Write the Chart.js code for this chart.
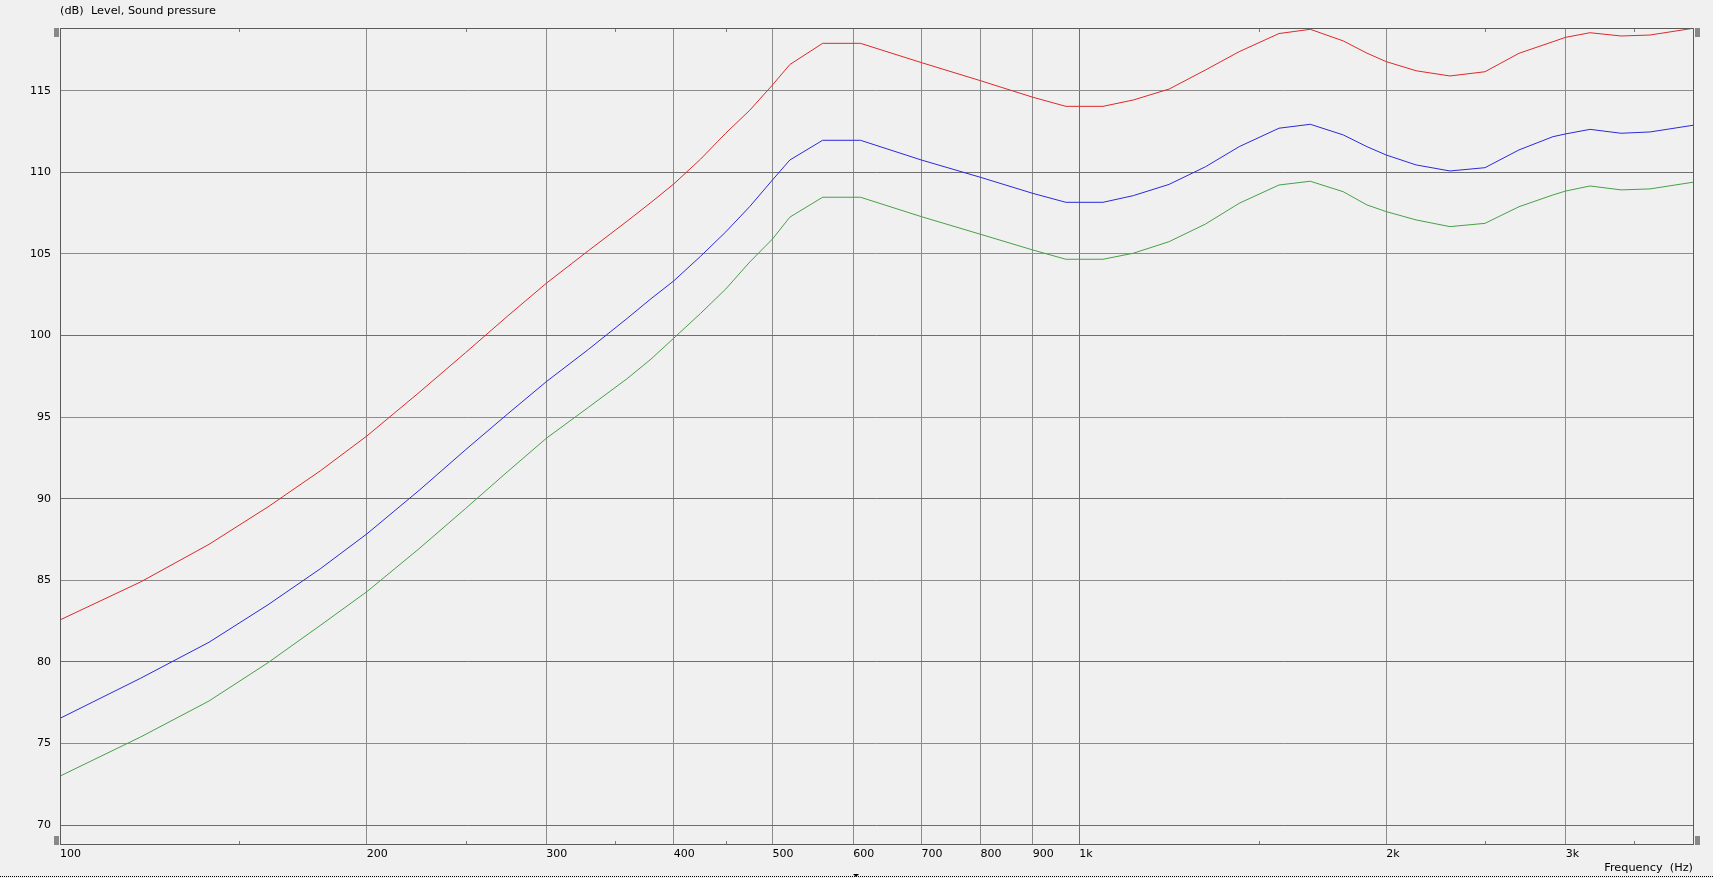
<!DOCTYPE html>
<html>
<head>
<meta charset="utf-8">
<script src="https://cdn.jsdelivr.net/npm/chart.js@4/dist/chart.umd.min.js"></script>
<style>
  html, body { margin: 0; padding: 0; background: #f0f0f0; }
  canvas { display: block; }
</style>
</head>
<body>
<canvas id="c" width="1713" height="878"></canvas>
<script>
// ---- Data ----
const freqs = [100, 120, 140, 160, 180, 200, 225, 250, 275, 300, 330, 360, 380, 400, 425, 450, 475, 500, 520, 560, 610, 700, 800, 900, 970, 1055, 1130, 1225, 1330, 1435, 1570, 1685, 1815, 1915, 2000, 2140, 2310, 2500, 2700, 2915, 3000, 3170, 3400, 3630, 4000];
const redLevel = [82.57, 84.9, 87.2, 89.5, 91.7, 93.84, 96.5, 98.95, 101.2, 103.2, 105.2, 107.0, 108.15, 109.28, 110.8, 112.4, 113.8, 115.35, 116.6, 117.9, 117.9, 116.72, 115.61, 114.6, 114.04, 114.04, 114.43, 115.1, 116.27, 117.39, 118.5, 118.76, 118.05, 117.3, 116.78, 116.22, 115.9, 116.16, 117.29, 118.0, 118.27, 118.55, 118.35, 118.41, 118.82];
const blueLevel = [76.54, 79.0, 81.2, 83.5, 85.7, 87.84, 90.5, 93.0, 95.2, 97.17, 99.15, 101.04, 102.25, 103.34, 104.85, 106.35, 107.9, 109.53, 110.75, 111.96, 111.96, 110.75, 109.69, 108.71, 108.16, 108.16, 108.57, 109.26, 110.34, 111.57, 112.7, 112.94, 112.29, 111.57, 111.06, 110.45, 110.08, 110.28, 111.37, 112.18, 112.35, 112.63, 112.39, 112.47, 112.88];
const greenLevel = [73.0, 75.4, 77.6, 79.95, 82.23, 84.3, 86.93, 89.4, 91.67, 93.7, 95.6, 97.35, 98.55, 99.83, 101.35, 102.85, 104.5, 105.91, 107.25, 108.47, 108.47, 107.28, 106.2, 105.24, 104.67, 104.67, 105.04, 105.75, 106.83, 108.1, 109.22, 109.45, 108.81, 108.0, 107.59, 107.08, 106.67, 106.87, 107.89, 108.61, 108.85, 109.16, 108.92, 108.98, 109.39];

const xTicks = [100, 200, 300, 400, 500, 600, 700, 800, 900, 1000, 2000, 3000];
const xMinorTicks = [150, 250, 350, 450, 1500, 2500, 3500];
const yTicks = [70, 75, 80, 85, 90, 95, 100, 105, 110, 115];
const xRange = [100, 4000];
const yRange = [68.84, 118.84];
const yTitle = '(dB)  Level, Sound pressure';
const xTitle = 'Frequency  (Hz)';

function series(vals) { return freqs.map((f, i) => ({ x: f, y: vals[i] })); }
function fmtFreq(v) { return v >= 1000 ? (v / 1000) + 'k' : String(v); }

Chart.defaults.font.family = "'DejaVu Sans', Verdana, sans-serif";
Chart.defaults.font.size = 11;
Chart.defaults.color = '#000';

const frame = {
  id: 'frame',
  beforeDraw(chart) {
    const ctx = chart.ctx;
    ctx.save();
    ctx.fillStyle = '#f0f0f0';
    ctx.fillRect(0, 0, chart.width, chart.height);
    ctx.restore();
  },
  afterDraw(chart) {
    const { ctx, chartArea: a, scales: { x } } = chart;
    ctx.save();
    // plot box
    ctx.strokeStyle = '#5a5a5a';
    ctx.lineWidth = 1;
    ctx.strokeRect(a.left + 0.5, a.top + 0.5, a.right - a.left, a.bottom - a.top);
    // minor ticks top and bottom
    ctx.strokeStyle = '#7a7a7a';
    ctx.beginPath();
    xMinorTicks.forEach(v => {
      const px = Math.round(x.getPixelForValue(v)) + 0.5;
      ctx.moveTo(px, a.top + 1); ctx.lineTo(px, a.top + 4);
      ctx.moveTo(px, a.bottom); ctx.lineTo(px, a.bottom - 3);
    });
    ctx.stroke();
    // scroll markers
    ctx.fillStyle = '#888888';
    ctx.fillRect(a.left - 6, a.top, 5, 9);
    ctx.fillRect(a.left - 6, a.bottom - 8, 5, 9);
    ctx.fillRect(a.right + 2, a.top, 5, 9);
    ctx.fillRect(a.right + 2, a.bottom - 8, 5, 9);
    // titles
    ctx.fillStyle = '#000';
    ctx.font = "11.3px 'DejaVu Sans'";
    ctx.textBaseline = 'middle';
    ctx.textAlign = 'left';
    ctx.fillText(yTitle, a.left, 11);
    ctx.textAlign = 'right';
    ctx.fillText(xTitle, a.right, 868);
    // dotted bottom line
    ctx.strokeStyle = '#000';
    ctx.setLineDash([1, 1]);
    ctx.beginPath();
    ctx.moveTo(0, 876.5); ctx.lineTo(chart.width, 876.5);
    ctx.stroke();
    ctx.setLineDash([]);
    // small arrow
    ctx.beginPath();
    ctx.moveTo(853, 874); ctx.lineTo(859, 874); ctx.lineTo(856, 877); ctx.closePath();
    ctx.fill();
    ctx.restore();
  }
};

new Chart(document.getElementById('c'), {
  type: 'line',
  data: {
    datasets: [
      { label: 'red', data: series(redLevel), borderColor: '#dc2a2a', borderWidth: 1, pointRadius: 0, tension: 0 },
      { label: 'blue', data: series(blueLevel), borderColor: '#2a2adc', borderWidth: 1, pointRadius: 0, tension: 0 },
      { label: 'green', data: series(greenLevel), borderColor: '#48a048', borderWidth: 1, pointRadius: 0, tension: 0 }
    ]
  },
  options: {
    responsive: false,
    devicePixelRatio: 1,
    animation: false,
    events: [],
    layout: { padding: { left: 0, top: 28, right: 20, bottom: 0 } },
    plugins: { legend: { display: false }, tooltip: { enabled: false }, title: { display: false } },
    scales: {
      x: {
        type: 'logarithmic',
        min: xRange[0], max: xRange[1],
        afterFit(s) { s.height = 34; },
        afterBuildTicks(s) { s.ticks = xTicks.map(v => ({ value: v })); },
        border: { display: false },
        grid: {
          drawTicks: false,
          color: ctx => (ctx.tick && ctx.tick.value === 1000) ? '#6e6e6e' : '#8c8c8c',
          lineWidth: 1
        },
        ticks: {
          autoSkip: false, maxRotation: 0, align: 'start', padding: 4,
          callback: (v) => fmtFreq(v)
        }
      },
      y: {
        type: 'linear',
        min: yRange[0], max: yRange[1],
        afterFit(s) { s.width = 60; },
        afterBuildTicks(s) { s.ticks = yTicks.map(v => ({ value: v })); },
        border: { display: false },
        grid: {
          drawTicks: false,
          color: ctx => (ctx.tick && ctx.tick.value % 10 === 0) ? '#6e6e6e' : '#8c8c8c',
          lineWidth: 1
        },
        ticks: { padding: 9, callback: (v) => String(v) }
      }
    }
  },
  plugins: [frame]
});
</script>
</body>
</html>
